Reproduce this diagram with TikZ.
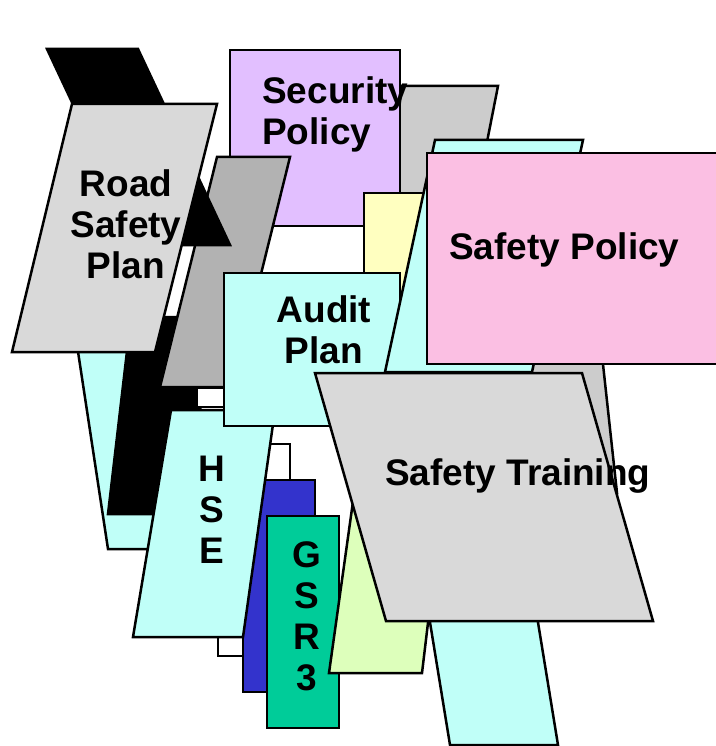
\documentclass[tikz,border=0pt]{standalone}
\usepackage{fontspec}
\setmainfont{Liberation Sans}
\definecolor{roadgray}{HTML}{D9D9D9}
\definecolor{darkgray}{HTML}{B2B2B2}
\definecolor{midgray}{HTML}{CCCCCC}
\definecolor{lilac}{HTML}{E2BFFF}
\definecolor{paleyellow}{HTML}{FFFFC0}
\definecolor{palecyan}{HTML}{C0FFF8}
\definecolor{pink}{HTML}{FBBFE3}
\definecolor{palegreen}{HTML}{DDFFBB}
\definecolor{deepblue}{HTML}{3333CC}
\definecolor{teal}{HTML}{00CC99}

\begin{document}
\begin{tikzpicture}[x=1pt,y=-1pt,
		sheet/.style={draw=black,line width=2.5pt,line join=miter},
		sheettext/.style={font=\bfseries\fontsize{37}{41}\selectfont,inner sep=0pt}]
		\useasboundingbox (0,0) rectangle (715,746);
		% back row
		\filldraw [sheet,fill=midgray] (402,86) -- (498,86) -- (450,330) -- (370,330) -- cycle;
		\filldraw [sheet,fill=lilac] (230,50) rectangle (400,226);
		\node [sheettext,align=left,anchor=base west] at (262,145) (secpol) {Security\\Policy};
		\filldraw [sheet,fill=palecyan] (77,345) -- (150,345) -- (175,549) -- (108,549) -- cycle;
		\filldraw [sheet,fill=black] (131,317) -- (205,317) -- (195,514) -- (108,514) -- cycle;
		\filldraw [sheet,fill=darkgray] (217,157) -- (290,157) -- (233,387) -- (160,387) -- cycle;
		\filldraw [sheet,fill=black] (47,49) -- (138,49) -- (230,245) -- (139,245) -- cycle;
		\filldraw [sheet,fill=roadgray] (72,104) -- (217,104) -- (155,352) -- (12,352) -- cycle;
		\node [sheettext,align=center,anchor=base] at (126,278) (roadplan) {Road\\Safety\\Plan};
		\filldraw [sheet,fill=paleyellow] (364,193) rectangle (430,300);
		% lower left
		\filldraw [sheet,fill=white] (197,388) rectangle (250,407);
		\filldraw [sheet,fill=white] (218,444) rectangle (290,656);
		\filldraw [sheet,fill=deepblue] (243,480) rectangle (315,692);
		\filldraw [sheet,fill=palecyan] (171,410) -- (275,410) -- (243,637) -- (133,637) -- cycle;
		\node [sheettext,align=center,anchor=base] at (212,563) (hse) {H\\S\\E};
		\filldraw [sheet,fill=teal] (267,516) rectangle (339,728);
		\node [sheettext,align=center,anchor=base] at (307,690) (gsr) {G\\S\\R\\3};
		\filldraw [sheet,fill=palegreen] (363,430) -- (451,430) -- (422,673) -- (329,673) -- cycle;
		\filldraw [sheet,fill=palecyan] (224,273) rectangle (400,426);
		\node [sheettext,align=center,anchor=base] at (324,363) (audit) {Audit\\Plan};
		% right side
		\filldraw [sheet,fill=palecyan] (397,420) -- (505,420) -- (558,745) -- (450,745) -- cycle;
		\filldraw [sheet,fill=midgray] (505,300) -- (596,300) -- (617,493) -- (545,493) -- cycle;
		\filldraw [sheet,fill=palecyan] (435,140) -- (583,140) -- (532,372) -- (385,372) -- cycle;
		\filldraw [sheet,fill=pink] (427,153) rectangle (725,364);
		\node [sheettext,anchor=base west] at (449,259) (safpol) {Safety Policy};
		\filldraw [sheet,fill=roadgray] (315,373) -- (582,373) -- (653,621) -- (386,621) -- cycle;
		\node [sheettext,anchor=base west] at (385,485) (training) {Safety Training};
\end{tikzpicture}
\end{document}
